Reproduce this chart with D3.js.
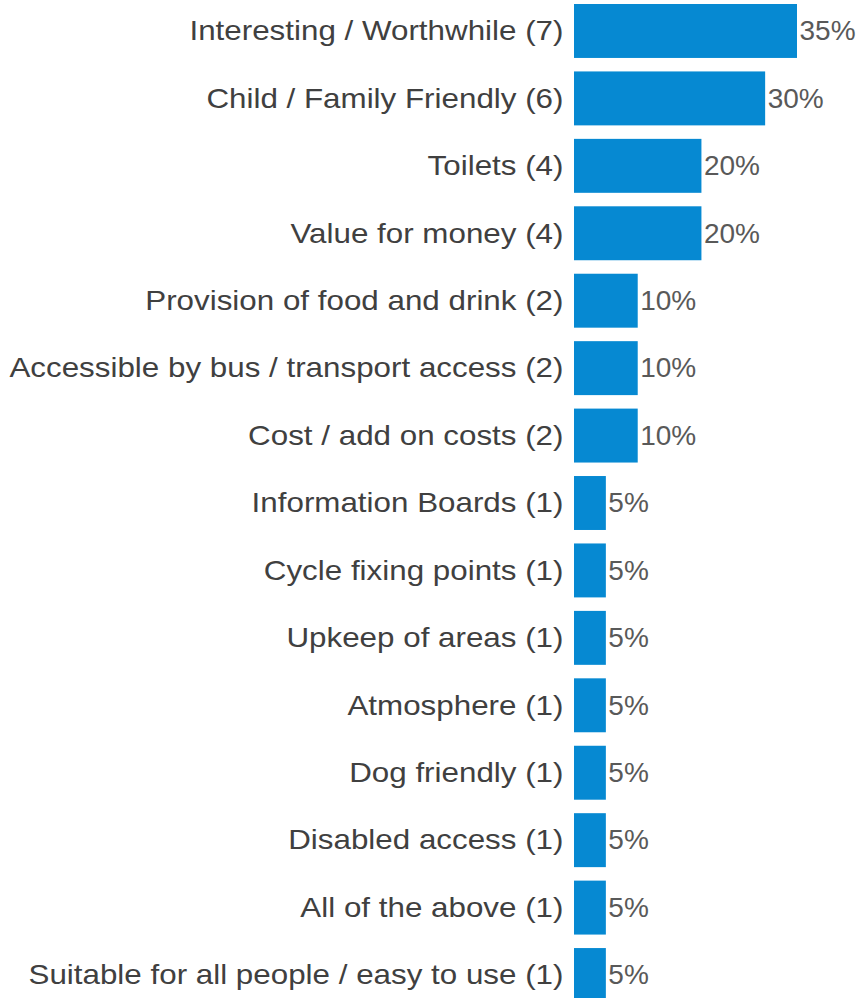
<!DOCTYPE html>
<html>
<head>
<meta charset="utf-8">
<script src="https://cdn.jsdelivr.net/npm/d3@7"></script>
<style>
  body { margin: 0; background: #fff; }
  svg { display: block; }
  text { font-family: "Liberation Sans", Arial, sans-serif; }
</style>
</head>
<body>
<svg width="859" height="998"></svg>
<script>
var categories = [
  "Interesting / Worthwhile (7)",
  "Child / Family Friendly (6)",
  "Toilets (4)",
  "Value for money (4)",
  "Provision of food and drink (2)",
  "Accessible by bus / transport access (2)",
  "Cost / add on costs (2)",
  "Information Boards (1)",
  "Cycle fixing points (1)",
  "Upkeep of areas (1)",
  "Atmosphere (1)",
  "Dog friendly (1)",
  "Disabled access (1)",
  "All of the above (1)",
  "Suitable for all people / easy to use (1)"
];
var percents = [35, 30, 20, 20, 10, 10, 10, 5, 5, 5, 5, 5, 5, 5, 5];

var svg = d3.select("svg"),
    width = +svg.attr("width"),
    height = +svg.attr("height");

var x = d3.scaleLinear().domain([0, 35]).range([574, 797]);
var y = d3.scaleBand().domain(categories).range([4, 1002]).paddingInner(0.2).paddingOuter(0);

var rows = svg.selectAll("g.row")
    .data(categories)
    .enter().append("g")
    .attr("class", "row");

rows.append("rect")
    .attr("x", x(0))
    .attr("y", function(d) { return y(d); })
    .attr("width", function(d, i) { return x(percents[i]) - x(0); })
    .attr("height", y.bandwidth())
    .attr("fill", "#0689d2");

// category labels look stretched sideways in the original, so scale them in x
rows.append("text")
    .attr("transform", function(d) {
        return "translate(" + (x(0) - 10.5) + "," + (y(d) + y.bandwidth() / 2) + ") scale(1.12,1)";
    })
    .attr("dy", "0.33em")
    .attr("text-anchor", "end")
    .attr("font-size", 28)
    .attr("fill", "#404040")
    .text(function(d) { return d; });

rows.append("text")
    .attr("x", function(d, i) { return x(percents[i]) + 2.5; })
    .attr("y", function(d) { return y(d) + y.bandwidth() / 2; })
    .attr("dy", "0.33em")
    .attr("font-size", 28)
    .attr("fill", "#595959")
    .text(function(d, i) { return percents[i] + "%"; });
</script>
</body>
</html>
